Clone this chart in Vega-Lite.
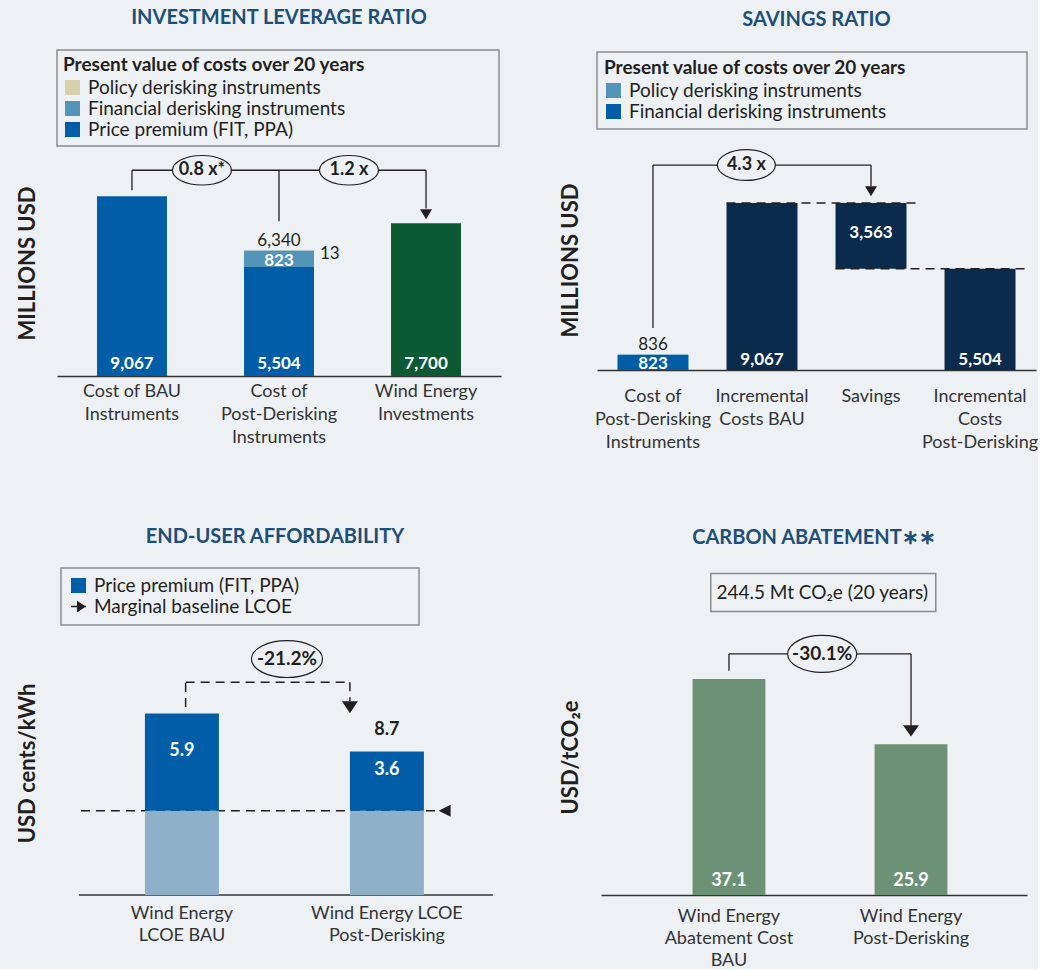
{
  "$schema": "https://vega.github.io/schema/vega-lite/v6.json",
  "background": "#eef1f4",
  "padding": {"left": 16, "top": 8, "right": 0, "bottom": 0},
  "resolve": {"scale": {"color": "independent"}, "legend": {"color": "independent"}},
  "columns": 2,
  "align": "none",
  "spacing": {"row": 76, "column": 58},
  "config": {
    "font": "Lato",
    "view": {"stroke": null},
    "title": {"fontSize": 20, "fontWeight": "bold", "color": "#1c4f7a", "anchor": "middle", "frame": "group"},
    "axisX": {"labelAngle": 0, "ticks": false, "domainColor": "#333333", "domainWidth": 1.5, "labelFontSize": 18, "labelColor": "#333333", "grid": false, "labelLimit": 300},
    "axisY": {"labels": false, "ticks": false, "domain": false, "grid": false, "titleFontSize": 22, "titleFontWeight": "bold", "titleColor": "#231f20"},
    "legend": {"titleFontSize": 19, "titleFontWeight": "bold", "titleColor": "#231f20", "labelFontSize": 19, "labelColor": "#231f20", "symbolType": "square", "symbolSize": 225, "symbolStrokeWidth": 0, "strokeColor": "#8c8c8c", "strokeWidth": 1.5, "padding": 7, "rowPadding": 1, "titlePadding": 3, "labelOffset": 6, "titleLimit": 1000, "labelLimit": 1000, "symbolOpacity": 1}
  },
  "datasets": {
    "a_bars": [
      {"cat": "Cost of BAU Instruments", "type": "Price premium (FIT, PPA)", "value": 9067},
      {"cat": "Cost of Post-Derisking Instruments", "type": "Price premium (FIT, PPA)", "value": 5504},
      {"cat": "Cost of Post-Derisking Instruments", "type": "Financial derisking instruments", "value": 823},
      {"cat": "Cost of Post-Derisking Instruments", "type": "Policy derisking instruments", "value": 13},
      {"cat": "Wind Energy Investments", "type": "Wind Energy Investments", "value": 7700}
    ],
    "a_links": [
      {"cat": "Cost of BAU Instruments", "cat2": "Cost of BAU Instruments", "v1": 9370, "v2": 10378},
      {"cat": "Cost of BAU Instruments", "cat2": "Wind Energy Investments", "v1": 10378, "v2": 10378},
      {"cat": "Cost of Post-Derisking Instruments", "cat2": "Cost of Post-Derisking Instruments", "v1": 10378, "v2": 7805},
      {"cat": "Wind Energy Investments", "cat2": "Wind Energy Investments", "v1": 10378, "v2": 8450}
    ],
    "a_arrow": [{"cat": "Wind Energy Investments", "v": 8158}],
    "a_ratios": [
      {"cat": "Cost of BAU Instruments", "v": 10378, "label": "0.8 x*"},
      {"cat": "Cost of Post-Derisking Instruments", "v": 10378, "label": "1.2 x"}
    ],
    "b_bars": [
      {"cat": "Cost of Post-Derisking Instruments", "seg": "Financial derisking instruments", "value": 823},
      {"cat": "Cost of Post-Derisking Instruments", "seg": "Policy derisking instruments", "value": 13},
      {"cat": "Incremental Costs BAU", "seg": "Incremental costs", "value": 9067},
      {"cat": "Savings", "seg": "Savings base", "value": 5504},
      {"cat": "Savings", "seg": "Savings", "value": 3563},
      {"cat": "Incremental Costs Post-Derisking", "seg": "Incremental costs", "value": 5504}
    ],
    "b_dash": [
      {"cat": "Incremental Costs BAU", "cat2": "Savings", "v": 9067},
      {"cat": "Savings", "cat2": "Incremental Costs Post-Derisking", "v": 5504}
    ],
    "b_links": [
      {"cat": "Cost of Post-Derisking Instruments", "cat2": "Cost of Post-Derisking Instruments", "v1": 2280, "v2": 11130},
      {"cat": "Cost of Post-Derisking Instruments", "cat2": "Savings", "v1": 11130, "v2": 11130},
      {"cat": "Savings", "cat2": "Savings", "v1": 11130, "v2": 9981}
    ],
    "b_arrow": [{"cat": "Savings", "v": 9707}],
    "b_ratio": [{"cat": "Incremental Costs BAU", "v": 11130, "label": "4.3 x"}],
    "c_bars": [
      {"cat": "Wind Energy LCOE BAU", "part": "Baseline LCOE", "value": 5.1},
      {"cat": "Wind Energy LCOE BAU", "part": "Price premium (FIT, PPA)", "value": 5.9},
      {"cat": "Wind Energy LCOE Post-Derisking", "part": "Baseline LCOE", "value": 5.1},
      {"cat": "Wind Energy LCOE Post-Derisking", "part": "Price premium (FIT, PPA)", "value": 3.6}
    ],
    "c_axis": [{"cat": "Wind Energy LCOE BAU", "cat2": "Wind Energy LCOE Post-Derisking", "v": 0}],
    "c_base": [{"cat": "Wind Energy LCOE BAU", "cat2": "Wind Energy LCOE Post-Derisking", "v": 5.1}],
    "c_baseArrow": [{"cat": "Wind Energy LCOE Post-Derisking", "v": 5.1}],
    "c_link": [{"cat": "Wind Energy LCOE BAU", "cat2": "Wind Energy LCOE Post-Derisking", "lo": 11.4, "top": 12.9, "end": 11.75}],
    "c_arrow": [{"cat": "Wind Energy LCOE Post-Derisking", "v": 11.38}],
    "c_ratio": [{"cat": "Wind Energy LCOE BAU", "v": 14.3, "label": "-21.2%"}],
    "d_bars": [
      {"cat": "Wind Energy Abatement Cost BAU", "value": 37.1},
      {"cat": "Wind Energy Post-Derisking", "value": 25.9}
    ],
    "d_links": [
      {"cat": "Wind Energy Abatement Cost BAU", "cat2": "Wind Energy Abatement Cost BAU", "v1": 38.5, "v2": 41.4},
      {"cat": "Wind Energy Abatement Cost BAU", "cat2": "Wind Energy Post-Derisking", "v1": 41.4, "v2": 41.4},
      {"cat": "Wind Energy Post-Derisking", "cat2": "Wind Energy Post-Derisking", "v1": 41.4, "v2": 28.9}
    ],
    "d_arrow": [{"cat": "Wind Energy Post-Derisking", "v": 28.2}],
    "d_ratio": [{"cat": "Wind Energy Abatement Cost BAU", "v": 41.4, "label": "-30.1%"}],
    "d_note": [{"cat": "Wind Energy Abatement Cost BAU", "cat2": "Wind Energy Post-Derisking", "lo": 48.7, "hi": 55.2, "label": "244.5 Mt CO₂e (20 years)"}]
  },
  "concat": [
    {
      "width": 444, "height": 226,
      "title": {"text": "INVESTMENT LEVERAGE RATIO", "offset": 21},
      "layer": [
        {
          "data": {"name": "a_bars"},
          "transform": [{"stack": "value", "groupby": ["cat"], "sort": [{"field": "value", "order": "descending"}], "as": ["s0", "s1"]}],
          "mark": {"type": "bar"},
          "encoding": {
            "x": {"field": "cat", "type": "nominal", "title": null, "scale": {"domain": ["Cost of BAU Instruments", "Cost of Post-Derisking Instruments", "Wind Energy Investments"], "paddingInner": 0.524, "paddingOuter": 0.272},
              "axis": {"labelPadding": 6, "labelLineHeight": 23, "labelExpr": "datum.value == 'Cost of BAU Instruments' ? ['Cost of BAU', 'Instruments'] : datum.value == 'Cost of Post-Derisking Instruments' ? ['Cost of', 'Post-Derisking', 'Instruments'] : ['Wind Energy', 'Investments']"}},
            "y": {"field": "s0", "type": "quantitative", "scale": {"domain": [0, 11400], "nice": false}, "axis": {"title": "MILLIONS USD", "titlePadding": 18}},
            "y2": {"field": "s1"},
            "color": {"field": "type", "type": "nominal",
              "scale": {"domain": ["Policy derisking instruments", "Financial derisking instruments", "Price premium (FIT, PPA)", "Wind Energy Investments"], "range": ["#d9d0aa", "#5394b9", "#005ea9", "#0b5a34"]},
              "legend": {"values": ["Policy derisking instruments", "Financial derisking instruments", "Price premium (FIT, PPA)"], "title": "Present value of costs over 20 years⠀⠀⠀⠀⠀⠀⠀⠀⠀", "orient": "top", "direction": "vertical", "offset": 4, "padding": 6}}
          }
        },
        {
          "data": {"name": "a_bars"},
          "transform": [{"stack": "value", "groupby": ["cat"], "sort": [{"field": "value", "order": "descending"}], "as": ["s0", "s1"]}, {"filter": "datum.s0 == 0"}],
          "mark": {"type": "text", "color": "white", "fontWeight": "bold", "fontSize": 17, "baseline": "alphabetic", "dy": -7},
          "encoding": {
            "x": {"field": "cat", "type": "nominal", "scale": {"domain": ["Cost of BAU Instruments", "Cost of Post-Derisking Instruments", "Wind Energy Investments"]}},
            "y": {"field": "s0", "type": "quantitative"},
            "text": {"field": "value", "format": ","}
          }
        },
        {
          "data": {"name": "a_bars"},
          "transform": [{"stack": "value", "groupby": ["cat"], "sort": [{"field": "value", "order": "descending"}], "as": ["s0", "s1"]}, {"filter": "datum.type == 'Financial derisking instruments'"}],
          "mark": {"type": "text", "color": "white", "fontWeight": "bold", "fontSize": 17, "baseline": "alphabetic", "dy": 15},
          "encoding": {
            "x": {"field": "cat", "type": "nominal", "scale": {"domain": ["Cost of BAU Instruments", "Cost of Post-Derisking Instruments", "Wind Energy Investments"]}},
            "y": {"field": "s1", "type": "quantitative"},
            "text": {"field": "value", "format": ","}
          }
        },
        {
          "data": {"name": "a_bars"},
          "transform": [{"stack": "value", "groupby": ["cat"], "sort": [{"field": "value", "order": "descending"}], "as": ["s0", "s1"]}, {"filter": "datum.type == 'Policy derisking instruments'"}],
          "mark": {"type": "text", "color": "#231f20", "fontSize": 17, "baseline": "alphabetic", "align": "left", "dx": 6, "dy": 9},
          "encoding": {
            "x": {"field": "cat", "type": "nominal", "bandPosition": 1, "scale": {"domain": ["Cost of BAU Instruments", "Cost of Post-Derisking Instruments", "Wind Energy Investments"]}},
            "y": {"field": "s1", "type": "quantitative"},
            "text": {"field": "value", "format": ","}
          }
        },
        {
          "data": {"name": "a_bars"},
          "transform": [{"filter": "datum.cat == 'Cost of Post-Derisking Instruments'"}, {"aggregate": [{"op": "sum", "field": "value", "as": "total"}], "groupby": ["cat"]}],
          "mark": {"type": "text", "color": "#231f20", "fontSize": 17, "baseline": "alphabetic", "dy": -4},
          "encoding": {
            "x": {"field": "cat", "type": "nominal", "scale": {"domain": ["Cost of BAU Instruments", "Cost of Post-Derisking Instruments", "Wind Energy Investments"]}},
            "y": {"field": "total", "type": "quantitative"},
            "text": {"field": "total", "format": ","}
          }
        },
        {
          "data": {"name": "a_links"},
          "mark": {"type": "rule", "color": "#231f20", "strokeWidth": 1.3},
          "encoding": {
            "x": {"field": "cat", "type": "nominal", "bandPosition": 0.5, "scale": {"domain": ["Cost of BAU Instruments", "Cost of Post-Derisking Instruments", "Wind Energy Investments"]}},
            "x2": {"field": "cat2", "bandPosition": 0.5},
            "y": {"field": "v1", "type": "quantitative"},
            "y2": {"field": "v2"}
          }
        },
        {
          "data": {"name": "a_arrow"},
          "mark": {"type": "point", "filled": true, "color": "#231f20", "opacity": 1, "size": 144, "shape": "M -1 -0.83 L 1 -0.83 L 0 0.83 Z"},
          "encoding": {
            "x": {"field": "cat", "type": "nominal", "bandPosition": 0.5, "scale": {"domain": ["Cost of BAU Instruments", "Cost of Post-Derisking Instruments", "Wind Energy Investments"]}},
            "y": {"field": "v", "type": "quantitative"}
          }
        },
        {
          "data": {"name": "a_ratios"},
          "mark": {"type": "point", "filled": true, "fill": "#eef1f4", "stroke": "#231f20", "strokeWidth": 1.2, "opacity": 1, "size": 3481, "shape": "M -1 0 A 1 0.5 0 1 1 1 0 A 1 0.5 0 1 1 -1 0 Z"},
          "encoding": {
            "x": {"field": "cat", "type": "nominal", "bandPosition": 1.5, "scale": {"domain": ["Cost of BAU Instruments", "Cost of Post-Derisking Instruments", "Wind Energy Investments"]}},
            "y": {"field": "v", "type": "quantitative"}
          }
        },
        {
          "data": {"name": "a_ratios"},
          "mark": {"type": "text", "color": "#231f20", "fontWeight": "bold", "fontSize": 18, "baseline": "middle"},
          "encoding": {
            "x": {"field": "cat", "type": "nominal", "bandPosition": 1.5, "scale": {"domain": ["Cost of BAU Instruments", "Cost of Post-Derisking Instruments", "Wind Energy Investments"]}},
            "y": {"field": "v", "type": "quantitative"},
            "text": {"field": "label"}
          }
        }
      ]
    },
    {
      "width": 439, "height": 220,
      "title": {"text": "SAVINGS RATIO", "offset": 21},
      "layer": [
        {
          "data": {"name": "b_bars"},
          "transform": [{"stack": "value", "groupby": ["cat"], "sort": [{"field": "value", "order": "descending"}], "as": ["s0", "s1"]}],
          "mark": {"type": "bar"},
          "encoding": {
            "x": {"field": "cat", "type": "nominal", "title": null, "scale": {"domain": ["Cost of Post-Derisking Instruments", "Incremental Costs BAU", "Savings", "Incremental Costs Post-Derisking"], "paddingInner": 0.349, "paddingOuter": 0.188},
              "axis": {"labelPadding": 17, "labelLineHeight": 23, "labelExpr": "datum.value == 'Cost of Post-Derisking Instruments' ? ['Cost of', 'Post-Derisking', 'Instruments'] : datum.value == 'Incremental Costs BAU' ? ['Incremental', 'Costs BAU'] : datum.value == 'Savings' ? 'Savings' : ['Incremental', 'Costs', 'Post-Derisking']"}},
            "y": {"field": "s0", "type": "quantitative", "scale": {"domain": [0, 11947], "nice": false}, "axis": {"title": "MILLIONS USD", "titlePadding": 15}},
            "y2": {"field": "s1"},
            "color": {"field": "seg", "type": "nominal",
              "scale": {"domain": ["Policy derisking instruments", "Financial derisking instruments", "Incremental costs", "Savings", "Savings base"], "range": ["#5394b9", "#005ea9", "#0b2b4c", "#0b2b4c", "rgba(0,0,0,0)"]},
              "legend": {"values": ["Policy derisking instruments", "Financial derisking instruments"], "title": "Present value of costs over 20 years⠀⠀⠀⠀⠀⠀⠀⠀", "orient": "top", "direction": "vertical", "offset": 21}}
          }
        },
        {
          "data": {"name": "b_bars"},
          "transform": [{"stack": "value", "groupby": ["cat"], "sort": [{"field": "value", "order": "descending"}], "as": ["s0", "s1"]}, {"filter": "datum.s0 == 0 && datum.seg == 'Incremental costs'"}],
          "mark": {"type": "text", "color": "white", "fontWeight": "bold", "fontSize": 17, "baseline": "alphabetic", "dy": -5},
          "encoding": {
            "x": {"field": "cat", "type": "nominal", "scale": {"domain": ["Cost of Post-Derisking Instruments", "Incremental Costs BAU", "Savings", "Incremental Costs Post-Derisking"]}},
            "y": {"field": "s0", "type": "quantitative"},
            "text": {"field": "value", "format": ","}
          }
        },
        {
          "data": {"name": "b_bars"},
          "transform": [{"stack": "value", "groupby": ["cat"], "sort": [{"field": "value", "order": "descending"}], "as": ["s0", "s1"]}, {"filter": "datum.seg == 'Financial derisking instruments'"}],
          "mark": {"type": "text", "color": "white", "fontWeight": "bold", "fontSize": 17, "baseline": "alphabetic", "dy": -1},
          "encoding": {
            "x": {"field": "cat", "type": "nominal", "scale": {"domain": ["Cost of Post-Derisking Instruments", "Incremental Costs BAU", "Savings", "Incremental Costs Post-Derisking"]}},
            "y": {"field": "s0", "type": "quantitative"},
            "text": {"field": "value", "format": ","}
          }
        },
        {
          "data": {"name": "b_bars"},
          "transform": [{"stack": "value", "groupby": ["cat"], "sort": [{"field": "value", "order": "descending"}], "as": ["s0", "s1"]}, {"filter": "datum.seg == 'Savings'"}],
          "mark": {"type": "text", "color": "white", "fontWeight": "bold", "fontSize": 17, "baseline": "middle", "dy": 30},
          "encoding": {
            "x": {"field": "cat", "type": "nominal", "scale": {"domain": ["Cost of Post-Derisking Instruments", "Incremental Costs BAU", "Savings", "Incremental Costs Post-Derisking"]}},
            "y": {"field": "s1", "type": "quantitative"},
            "text": {"field": "value", "format": ","}
          }
        },
        {
          "data": {"name": "b_bars"},
          "transform": [{"filter": "datum.cat == 'Cost of Post-Derisking Instruments'"}, {"aggregate": [{"op": "sum", "field": "value", "as": "total"}], "groupby": ["cat"]}],
          "mark": {"type": "text", "color": "#231f20", "fontSize": 17, "baseline": "alphabetic", "dy": -5},
          "encoding": {
            "x": {"field": "cat", "type": "nominal", "scale": {"domain": ["Cost of Post-Derisking Instruments", "Incremental Costs BAU", "Savings", "Incremental Costs Post-Derisking"]}},
            "y": {"field": "total", "type": "quantitative"},
            "text": {"field": "total", "format": ","}
          }
        },
        {
          "data": {"name": "b_dash"},
          "mark": {"type": "rule", "color": "#231f20", "strokeWidth": 1.5, "strokeDash": [9, 6]},
          "encoding": {
            "x": {"field": "cat", "type": "nominal", "bandPosition": 0, "scale": {"domain": ["Cost of Post-Derisking Instruments", "Incremental Costs BAU", "Savings", "Incremental Costs Post-Derisking"]}},
            "x2": {"field": "cat2", "bandPosition": 1.18},
            "y": {"field": "v", "type": "quantitative"}
          }
        },
        {
          "data": {"name": "b_links"},
          "mark": {"type": "rule", "color": "#231f20", "strokeWidth": 1.3},
          "encoding": {
            "x": {"field": "cat", "type": "nominal", "bandPosition": 0.5, "scale": {"domain": ["Cost of Post-Derisking Instruments", "Incremental Costs BAU", "Savings", "Incremental Costs Post-Derisking"]}},
            "x2": {"field": "cat2", "bandPosition": 0.5},
            "y": {"field": "v1", "type": "quantitative"},
            "y2": {"field": "v2"}
          }
        },
        {
          "data": {"name": "b_arrow"},
          "mark": {"type": "point", "filled": true, "color": "#231f20", "opacity": 1, "size": 144, "shape": "M -1 -0.83 L 1 -0.83 L 0 0.83 Z"},
          "encoding": {
            "x": {"field": "cat", "type": "nominal", "bandPosition": 0.5, "scale": {"domain": ["Cost of Post-Derisking Instruments", "Incremental Costs BAU", "Savings", "Incremental Costs Post-Derisking"]}},
            "y": {"field": "v", "type": "quantitative"}
          }
        },
        {
          "data": {"name": "b_ratio"},
          "mark": {"type": "point", "filled": true, "fill": "#eef1f4", "stroke": "#231f20", "strokeWidth": 1.2, "opacity": 1, "size": 3364, "shape": "M -1 0 A 1 0.53 0 1 1 1 0 A 1 0.53 0 1 1 -1 0 Z"},
          "encoding": {
            "x": {"field": "cat", "type": "nominal", "bandPosition": 0.28, "scale": {"domain": ["Cost of Post-Derisking Instruments", "Incremental Costs BAU", "Savings", "Incremental Costs Post-Derisking"]}},
            "y": {"field": "v", "type": "quantitative"}
          }
        },
        {
          "data": {"name": "b_ratio"},
          "mark": {"type": "text", "color": "#231f20", "fontWeight": "bold", "fontSize": 18, "baseline": "middle"},
          "encoding": {
            "x": {"field": "cat", "type": "nominal", "bandPosition": 0.28, "scale": {"domain": ["Cost of Post-Derisking Instruments", "Incremental Costs BAU", "Savings", "Incremental Costs Post-Derisking"]}},
            "y": {"field": "v", "type": "quantitative"},
            "text": {"field": "label"}
          }
        }
      ]
    },
    {
      "width": 436, "height": 264,
      "title": {"text": "END-USER AFFORDABILITY", "offset": 20},
      "layer": [
        {
          "data": {"name": "c_base"},
          "mark": {"type": "rule", "color": "#231f20", "strokeWidth": 1.5, "strokeDash": [9, 6]},
          "encoding": {
            "x": {"field": "cat", "type": "nominal", "bandPosition": -0.865, "title": null, "scale": {"domain": ["Wind Energy LCOE BAU", "Wind Energy LCOE Post-Derisking"], "paddingInner": 0.639, "paddingOuter": 0.383, "align": 0.56},
              "axis": {"domain": false, "labelPadding": 9, "labelLineHeight": 22, "labelExpr": "datum.value == 'Wind Energy LCOE BAU' ? ['Wind Energy', 'LCOE BAU'] : ['Wind Energy LCOE', 'Post-Derisking']"}},
            "x2": {"field": "cat2", "bandPosition": 1.176},
            "y": {"field": "v", "type": "quantitative", "scale": {"domain": [0, 16], "nice": false}, "axis": {"title": "USD cents/kWh", "titlePadding": 18}}
          }
        },
        {
          "data": {"name": "c_axis"},
          "mark": {"type": "rule", "color": "#333333", "strokeWidth": 1.5},
          "encoding": {
            "x": {"field": "cat", "type": "nominal", "bandPosition": -0.892, "scale": {"domain": ["Wind Energy LCOE BAU", "Wind Energy LCOE Post-Derisking"]}},
            "x2": {"field": "cat2", "bandPosition": 1.932},
            "y": {"field": "v", "type": "quantitative"}
          }
        },
        {
          "data": {"name": "c_bars"},
          "transform": [{"stack": "value", "groupby": ["cat"], "sort": [{"field": "part", "order": "ascending"}], "as": ["s0", "s1"]}],
          "mark": {"type": "bar"},
          "encoding": {
            "x": {"field": "cat", "type": "nominal", "scale": {"domain": ["Wind Energy LCOE BAU", "Wind Energy LCOE Post-Derisking"]}},
            "y": {"field": "s0", "type": "quantitative"},
            "y2": {"field": "s1"},
            "color": {"field": "part", "type": "nominal",
              "scale": {"domain": ["Price premium (FIT, PPA)", "Marginal baseline LCOE", "Baseline LCOE"], "range": ["#005ea9", "#231f20", "#8eb0c9"]},
              "legend": {"values": ["Price premium (FIT, PPA)", "Marginal baseline LCOE"], "title": null, "orient": "none", "legendX": 4, "legendY": -63, "padding": 8,
                "labelExpr": "datum.value == 'Price premium (FIT, PPA)' ? datum.label + '⠀⠀⠀⠀⠀⠀⠀⠀' : datum.label",
                "encode": {"symbols": {"update": {
                  "shape": {"signal": "datum.value == 'Marginal baseline LCOE' ? 'M -1 0 L 1 0 M -0.1 -0.6 L 0.8 0 L -0.1 0.6 Z' : 'square'"},
                  "stroke": {"signal": "datum.value == 'Marginal baseline LCOE' ? '#231f20' : 'transparent'"},
                  "strokeWidth": {"value": 1.5}}}}}}
          }
        },
        {
          "data": {"name": "c_bars"},
          "transform": [{"stack": "value", "groupby": ["cat"], "sort": [{"field": "part", "order": "ascending"}], "as": ["s0", "s1"]}, {"filter": "datum.part == 'Price premium (FIT, PPA)'"}, {"calculate": "(datum.s0 + datum.s1) / 2", "as": "mid"}],
          "mark": {"type": "text", "color": "white", "fontWeight": "bold", "fontSize": 18, "baseline": "middle", "dy": -11},
          "encoding": {
            "x": {"field": "cat", "type": "nominal", "scale": {"domain": ["Wind Energy LCOE BAU", "Wind Energy LCOE Post-Derisking"]}},
            "y": {"field": "mid", "type": "quantitative"},
            "text": {"field": "value", "format": ".1f"}
          }
        },
        {
          "data": {"name": "c_bars"},
          "transform": [{"filter": "datum.cat == 'Wind Energy LCOE Post-Derisking'"}, {"aggregate": [{"op": "sum", "field": "value", "as": "total"}], "groupby": ["cat"]}],
          "mark": {"type": "text", "color": "#231f20", "fontWeight": "bold", "fontSize": 18, "baseline": "alphabetic", "dy": -16},
          "encoding": {
            "x": {"field": "cat", "type": "nominal", "scale": {"domain": ["Wind Energy LCOE BAU", "Wind Energy LCOE Post-Derisking"]}},
            "y": {"field": "total", "type": "quantitative"},
            "text": {"field": "total", "format": ".1f"}
          }
        },
        {
          "data": {"name": "c_baseArrow"},
          "mark": {"type": "point", "filled": true, "color": "#231f20", "opacity": 1, "size": 144, "shape": "M 1 -1 L 1 1 L -1 0 Z"},
          "encoding": {
            "x": {"field": "cat", "type": "nominal", "bandPosition": 1.28, "scale": {"domain": ["Wind Energy LCOE BAU", "Wind Energy LCOE Post-Derisking"]}},
            "y": {"field": "v", "type": "quantitative"}
          }
        },
        {
          "data": {"name": "c_link"},
          "mark": {"type": "rule", "color": "#231f20", "strokeWidth": 1.5, "strokeDash": [9, 6]},
          "encoding": {
            "x": {"field": "cat", "type": "nominal", "bandPosition": 0.55, "scale": {"domain": ["Wind Energy LCOE BAU", "Wind Energy LCOE Post-Derisking"]}},
            "y": {"field": "lo", "type": "quantitative"},
            "y2": {"field": "top"}
          }
        },
        {
          "data": {"name": "c_link"},
          "mark": {"type": "rule", "color": "#231f20", "strokeWidth": 1.5, "strokeDash": [9, 6]},
          "encoding": {
            "x": {"field": "cat", "type": "nominal", "bandPosition": 0.55, "scale": {"domain": ["Wind Energy LCOE BAU", "Wind Energy LCOE Post-Derisking"]}},
            "x2": {"field": "cat2", "bandPosition": 0},
            "y": {"field": "top", "type": "quantitative"}
          }
        },
        {
          "data": {"name": "c_link"},
          "mark": {"type": "rule", "color": "#231f20", "strokeWidth": 1.5, "strokeDash": [9, 6]},
          "encoding": {
            "x": {"field": "cat2", "type": "nominal", "bandPosition": 0, "scale": {"domain": ["Wind Energy LCOE BAU", "Wind Energy LCOE Post-Derisking"]}},
            "y": {"field": "top", "type": "quantitative"},
            "y2": {"field": "end"}
          }
        },
        {
          "data": {"name": "c_arrow"},
          "mark": {"type": "point", "filled": true, "color": "#231f20", "opacity": 1, "size": 256, "shape": "M -1 -0.75 L 1 -0.75 L 0 0.75 Z"},
          "encoding": {
            "x": {"field": "cat", "type": "nominal", "bandPosition": 0, "scale": {"domain": ["Wind Energy LCOE BAU", "Wind Energy LCOE Post-Derisking"]}},
            "y": {"field": "v", "type": "quantitative"}
          }
        },
        {
          "data": {"name": "c_ratio"},
          "mark": {"type": "point", "filled": true, "fill": "#eef1f4", "stroke": "#231f20", "strokeWidth": 1.2, "opacity": 1, "size": 5041, "shape": "M -1 0 A 1 0.52 0 1 1 1 0 A 1 0.52 0 1 1 -1 0 Z"},
          "encoding": {
            "x": {"field": "cat", "type": "nominal", "bandPosition": 1.92, "scale": {"domain": ["Wind Energy LCOE BAU", "Wind Energy LCOE Post-Derisking"]}},
            "y": {"field": "v", "type": "quantitative"}
          }
        },
        {
          "data": {"name": "c_ratio"},
          "mark": {"type": "text", "color": "#231f20", "fontWeight": "bold", "fontSize": 19, "baseline": "middle"},
          "encoding": {
            "x": {"field": "cat", "type": "nominal", "bandPosition": 1.92, "scale": {"domain": ["Wind Energy LCOE BAU", "Wind Energy LCOE Post-Derisking"]}},
            "y": {"field": "v", "type": "quantitative"},
            "text": {"field": "label"}
          }
        }
      ]
    },
    {
      "width": 426, "height": 276,
      "title": {"text": "CARBON ABATEMENT∗∗", "offset": 25},
      "layer": [
        {
          "data": {"name": "d_bars"},
          "mark": {"type": "bar", "color": "#6d9174"},
          "encoding": {
            "x": {"field": "cat", "type": "nominal", "title": null, "scale": {"domain": ["Wind Energy Abatement Cost BAU", "Wind Energy Post-Derisking"], "paddingInner": 0.6, "paddingOuter": 0.47, "align": 0.535},
              "axis": {"labelPadding": 12, "labelLineHeight": 22, "labelExpr": "datum.value == 'Wind Energy Abatement Cost BAU' ? ['Wind Energy', 'Abatement  Cost', 'BAU'] : ['Wind Energy', 'Post-Derisking']"}},
            "y": {"field": "value", "type": "quantitative", "scale": {"domain": [0, 47.4], "nice": false}, "axis": {"title": "USD/tCO₂e", "titlePadding": 19}}
          }
        },
        {
          "data": {"name": "d_bars"},
          "mark": {"type": "text", "color": "white", "fontWeight": "bold", "fontSize": 18, "baseline": "alphabetic", "dy": -9},
          "encoding": {
            "x": {"field": "cat", "type": "nominal", "scale": {"domain": ["Wind Energy Abatement Cost BAU", "Wind Energy Post-Derisking"]}},
            "y": {"datum": 0, "type": "quantitative"},
            "text": {"field": "value", "format": ".1f"}
          }
        },
        {
          "data": {"name": "d_links"},
          "mark": {"type": "rule", "color": "#231f20", "strokeWidth": 1.3},
          "encoding": {
            "x": {"field": "cat", "type": "nominal", "bandPosition": 0.5, "scale": {"domain": ["Wind Energy Abatement Cost BAU", "Wind Energy Post-Derisking"]}},
            "x2": {"field": "cat2", "bandPosition": 0.5},
            "y": {"field": "v1", "type": "quantitative"},
            "y2": {"field": "v2"}
          }
        },
        {
          "data": {"name": "d_arrow"},
          "mark": {"type": "point", "filled": true, "color": "#231f20", "opacity": 1, "size": 256, "shape": "M -1 -0.7 L 1 -0.7 L 0 0.7 Z"},
          "encoding": {
            "x": {"field": "cat", "type": "nominal", "bandPosition": 0.5, "scale": {"domain": ["Wind Energy Abatement Cost BAU", "Wind Energy Post-Derisking"]}},
            "y": {"field": "v", "type": "quantitative"}
          }
        },
        {
          "data": {"name": "d_ratio"},
          "mark": {"type": "point", "filled": true, "fill": "#eef1f4", "stroke": "#231f20", "strokeWidth": 1.2, "opacity": 1, "size": 4761, "shape": "M -1 0 A 1 0.536 0 1 1 1 0 A 1 0.536 0 1 1 -1 0 Z"},
          "encoding": {
            "x": {"field": "cat", "type": "nominal", "bandPosition": 1.78, "scale": {"domain": ["Wind Energy Abatement Cost BAU", "Wind Energy Post-Derisking"]}},
            "y": {"field": "v", "type": "quantitative"}
          }
        },
        {
          "data": {"name": "d_ratio"},
          "mark": {"type": "text", "color": "#231f20", "fontWeight": "bold", "fontSize": 19, "baseline": "middle"},
          "encoding": {
            "x": {"field": "cat", "type": "nominal", "bandPosition": 1.78, "scale": {"domain": ["Wind Energy Abatement Cost BAU", "Wind Energy Post-Derisking"]}},
            "y": {"field": "v", "type": "quantitative"},
            "text": {"field": "label"}
          }
        },
        {
          "data": {"name": "d_note"},
          "mark": {"type": "rect", "fill": "#eef1f4", "stroke": "#8c8c8c", "strokeWidth": 1.5},
          "encoding": {
            "x": {"field": "cat", "type": "nominal", "bandPosition": 0.25, "scale": {"domain": ["Wind Energy Abatement Cost BAU", "Wind Energy Post-Derisking"]}},
            "x2": {"field": "cat2", "bandPosition": 0.84},
            "y": {"field": "lo", "type": "quantitative"},
            "y2": {"field": "hi"}
          }
        },
        {
          "data": {"name": "d_note"},
          "mark": {"type": "text", "color": "#231f20", "fontSize": 19, "baseline": "middle", "dy": 19},
          "encoding": {
            "x": {"field": "cat", "type": "nominal", "bandPosition": 1.78, "scale": {"domain": ["Wind Energy Abatement Cost BAU", "Wind Energy Post-Derisking"]}},
            "y": {"field": "hi", "type": "quantitative"},
            "text": {"field": "label"}
          }
        }
      ]
    }
  ]
}
